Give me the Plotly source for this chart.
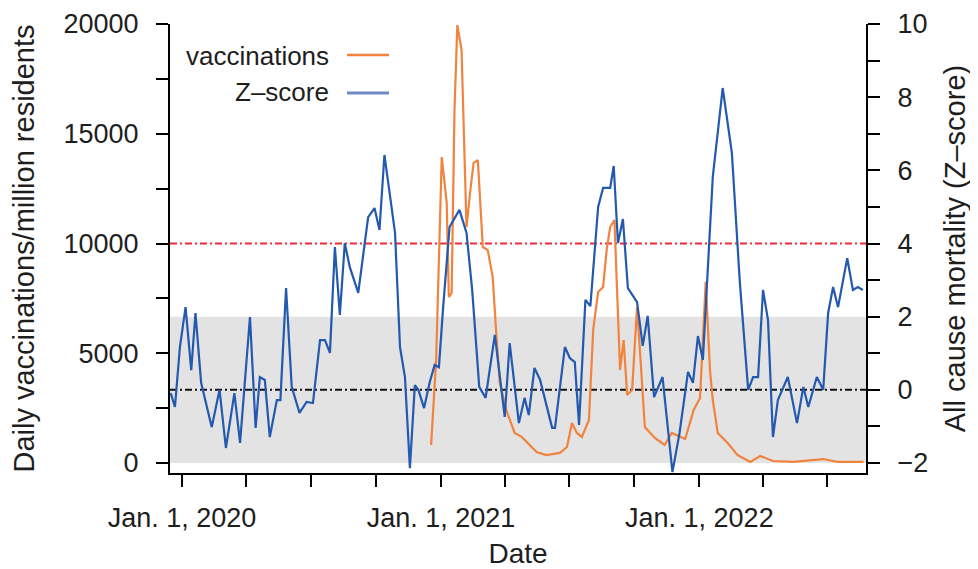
import plotly.graph_objects as go

# ---------------- data ----------------
z_dates = [
    "2019-12-16", "2019-12-22", "2019-12-29", "2020-01-06", "2020-01-14", "2020-01-20", "2020-01-28",
    "2020-02-12", "2020-02-23", "2020-03-03", "2020-03-15", "2020-03-23", "2020-04-06", "2020-04-14",
    "2020-04-20", "2020-04-27", "2020-05-04", "2020-05-14", "2020-05-19", "2020-05-27", "2020-06-04",
    "2020-06-15", "2020-06-25", "2020-07-04", "2020-07-14", "2020-07-21", "2020-07-28", "2020-08-04",
    "2020-08-11", "2020-08-18", "2020-08-25", "2020-09-06", "2020-09-20", "2020-09-29", "2020-10-06",
    "2020-10-13", "2020-10-28", "2020-11-04", "2020-11-11", "2020-11-18", "2020-11-25", "2020-11-30",
    "2020-12-08", "2020-12-16", "2020-12-23", "2020-12-29", "2021-01-04", "2021-01-13", "2021-01-27",
    "2021-02-06", "2021-02-14", "2021-02-24", "2021-03-05", "2021-03-18", "2021-04-01", "2021-04-08",
    "2021-04-21", "2021-04-29", "2021-05-05", "2021-05-13", "2021-05-21", "2021-06-07", "2021-06-11",
    "2021-06-25", "2021-07-02", "2021-07-09", "2021-07-15", "2021-07-24", "2021-07-31", "2021-08-11",
    "2021-08-18", "2021-08-28", "2021-09-02", "2021-09-08", "2021-09-15", "2021-09-22", "2021-10-05",
    "2021-10-13", "2021-10-20", "2021-10-29", "2021-11-10", "2021-11-24", "2021-12-04", "2021-12-16",
    "2021-12-23", "2021-12-30", "2022-01-06", "2022-01-20", "2022-02-03", "2022-02-16", "2022-02-27",
    "2022-03-11", "2022-03-18", "2022-03-25", "2022-04-01", "2022-04-08", "2022-04-15", "2022-04-22",
    "2022-05-06", "2022-05-19", "2022-05-28", "2022-06-04", "2022-06-16", "2022-06-25", "2022-07-02",
    "2022-07-09", "2022-07-16", "2022-07-29", "2022-08-06", "2022-08-13", "2022-08-20",
]
z_values = [
    -0.09, -0.47, 1.17, 2.26, 0.54, 2.10, 0.19,
    -1.02, 0.00, -1.59, -0.09, -1.45, 1.99, -1.04,
    0.35, 0.27, -1.29, -0.28, -0.28, 2.78, 0.08,
    -0.63, -0.33, -0.36, 1.36, 1.36, 1.01, 3.90,
    2.05, 4.01, 3.36, 2.65, 4.72, 4.97, 4.37,
    6.42, 4.29, 1.17, 0.35, -2.14, 0.13, 0.00,
    -0.50, 0.21, 0.68, 0.62, 2.26, 4.45, 4.92,
    4.29, 2.73, 0.08, -0.22, 1.50, -0.74, 1.28,
    -0.91, -0.22, -0.69, 0.60, 0.27, -1.04, -1.04,
    1.17, 0.87, 0.76, -0.96, 2.46, 2.29, 5.00,
    5.52, 5.52, 6.12, 4.01, 4.67, 2.78, 2.40,
    1.20, 2.02, -0.20, 0.35, -2.25, -1.18, 0.49,
    0.19, 1.47, 0.82, 5.82, 8.25, 6.47, 3.00,
    0.00, 0.35, 0.35, 2.73, 1.91, -1.29, -0.28,
    0.35, -0.91, 0.08, -0.47, 0.35, 0.00, 2.10,
    2.81, 2.26, 3.60, 2.73, 2.81, 2.73,
]

vac_dates = [
    "2020-12-18", "2020-12-25", "2021-01-02", "2021-01-09", "2021-01-12", "2021-01-16", "2021-01-20",
    "2021-01-24", "2021-01-30", "2021-02-06", "2021-02-11", "2021-02-16", "2021-02-22", "2021-03-01",
    "2021-03-08", "2021-03-15", "2021-03-20", "2021-03-25", "2021-04-03", "2021-04-15", "2021-04-25",
    "2021-05-04", "2021-05-16", "2021-05-30", "2021-06-18", "2021-06-28", "2021-07-05", "2021-07-12",
    "2021-07-19", "2021-07-29", "2021-08-04", "2021-08-11", "2021-08-18", "2021-08-23", "2021-08-28",
    "2021-09-03", "2021-09-07", "2021-09-11", "2021-09-16", "2021-09-21", "2021-09-28", "2021-10-05",
    "2021-10-09", "2021-10-16", "2021-10-30", "2021-11-13", "2021-11-23", "2021-12-12", "2021-12-24",
    "2022-01-02", "2022-01-10", "2022-01-16", "2022-01-20", "2022-01-27", "2022-02-10", "2022-02-24",
    "2022-03-14", "2022-03-28", "2022-04-15", "2022-05-14", "2022-06-25", "2022-07-15", "2022-08-21",
]
vac_values = [
    820, 4650, 13940, 11850, 7560, 7750, 16080,
    19950, 18820, 10750, 12300, 13670, 13800, 9840,
    9700, 8470, 5920, 3650, 2420, 1370, 1190,
    910, 500, 360, 460, 730, 1820, 1370,
    1190, 1960, 6060, 7790, 8020, 9700, 10750,
    11070, 7430, 4240, 5600, 3100, 3330, 7110,
    5150, 1640, 1140, 820, 1370, 1090, 2420,
    2960, 8250, 4240, 2870, 1370, 910, 360,
    50, 320, 90, 50, 180, 50, 50,
]

x_tick_dates = ["2020-01-01", "2020-04-01", "2020-07-01", "2020-10-01",
                "2021-01-01", "2021-04-01", "2021-07-01", "2021-10-01",
                "2022-01-01", "2022-04-01", "2022-07-01"]
x_tick_text = ["Jan. 1, 2020", "", "", "",
               "Jan. 1, 2021", "", "", "",
               "Jan. 1, 2022", "", ""]

y_tick_vals = [0, 2500, 5000, 7500, 10000, 12500, 15000, 17500, 20000]
y_tick_text = ["0", "", "5000", "", "10000", "", "15000", "", "20000"]

z_tick_vals = [-2, -1, 0, 1, 2, 3, 4, 5, 6, 7, 8, 9, 10]
z_tick_text = ["\u22122", "", "0", "", "2", "", "4", "", "6", "", "8", "", "10"]

band_low, band_high = -2, 2
threshold = 4
baseline = 0

# ---------------- styles ----------------
FONT = "Liberation Sans, Arial, Helvetica, sans-serif"
TXT = "#1e1e1e"
ORANGE = "#F2833E"
BLUE = "#2359AE"

fig = go.Figure()
fig.add_trace(go.Scatter(x=vac_dates, y=vac_values, mode="lines", name="vaccinations",
                         line=dict(color=ORANGE, width=2.2), yaxis="y"))
fig.add_trace(go.Scatter(x=z_dates, y=z_values, mode="lines", name="Z\u2013score",
                         line=dict(color=BLUE, width=2.2), yaxis="y2"))

shapes = [
    dict(type="rect", xref="paper", x0=0, x1=1, yref="y2", y0=band_low, y1=band_high,
         fillcolor="#E3E3E3", line=dict(width=0), layer="below"),
    dict(type="line", xref="paper", x0=0, x1=1, yref="y2", y0=threshold, y1=threshold,
         line=dict(color="#EE2A3A", width=2, dash="7px,3px,2px,3px"), layer="below"),
    dict(type="line", xref="paper", x0=0, x1=1, yref="y2", y0=baseline, y1=baseline,
         line=dict(color="#111111", width=2, dash="7px,3px,2px,3px"), layer="below"),
    # legend samples
    dict(type="line", xref="paper", yref="paper", x0=0.2543, x1=0.3147, y0=0.931, y1=0.931,
         line=dict(color=ORANGE, width=2.5)),
    dict(type="line", xref="paper", yref="paper", x0=0.2543, x1=0.3147, y0=0.8463, y1=0.8463,
         line=dict(color="#6E88C4", width=3)),
]

annotations = [
    dict(text="vaccinations", xref="paper", yref="paper", x=0.2313, y=0.9287,
         xanchor="right", yanchor="middle", showarrow=False,
         font=dict(family=FONT, size=26, color=TXT)),
    dict(text="Z\u2013score", xref="paper", yref="paper", x=0.2313, y=0.8486,
         xanchor="right", yanchor="middle", showarrow=False,
         font=dict(family=FONT, size=26, color=TXT)),
]

axis_common = dict(showline=True, linewidth=2, linecolor="black", ticks="outside",
                   ticklen=12, tickwidth=2, tickcolor="black", showgrid=False, zeroline=False,
                   automargin=False,
                   tickfont=dict(family=FONT, size=27, color=TXT))

# the page body adds an 8px offset, so the figure is sized 8px smaller
fig.update_layout(
    width=970, height=561, autosize=False,
    margin=dict(l=162, r=112, t=16, b=96),
    paper_bgcolor="white", plot_bgcolor="white",
    showlegend=False,
    shapes=shapes, annotations=annotations,
    xaxis=dict(type="date", range=["2019-12-15", "2022-08-24 12:00"],
               tickmode="array", tickvals=x_tick_dates, ticktext=x_tick_text,
               ticklabelstandoff=8,
               title=dict(text="Date", font=dict(family=FONT, size=28, color=TXT), standoff=14),
               **axis_common),
    yaxis=dict(range=[-456, 20000], tickmode="array", tickvals=y_tick_vals, ticktext=y_tick_text,
               ticklabelstandoff=12,
               title=dict(text="Daily vaccinations/million residents",
                          font=dict(family=FONT, size=29, color=TXT), standoff=21),
               **axis_common),
    yaxis2=dict(overlaying="y", side="right", anchor="x", range=[-2.2733, 10],
                tickmode="array", tickvals=z_tick_vals, ticktext=z_tick_text,
                ticklabelstandoff=12,
                title=dict(text="All cause mortality (Z\u2013score)",
                           font=dict(family=FONT, size=29, color=TXT), standoff=18),
                **axis_common),
)

fig.write_html("out.html")
